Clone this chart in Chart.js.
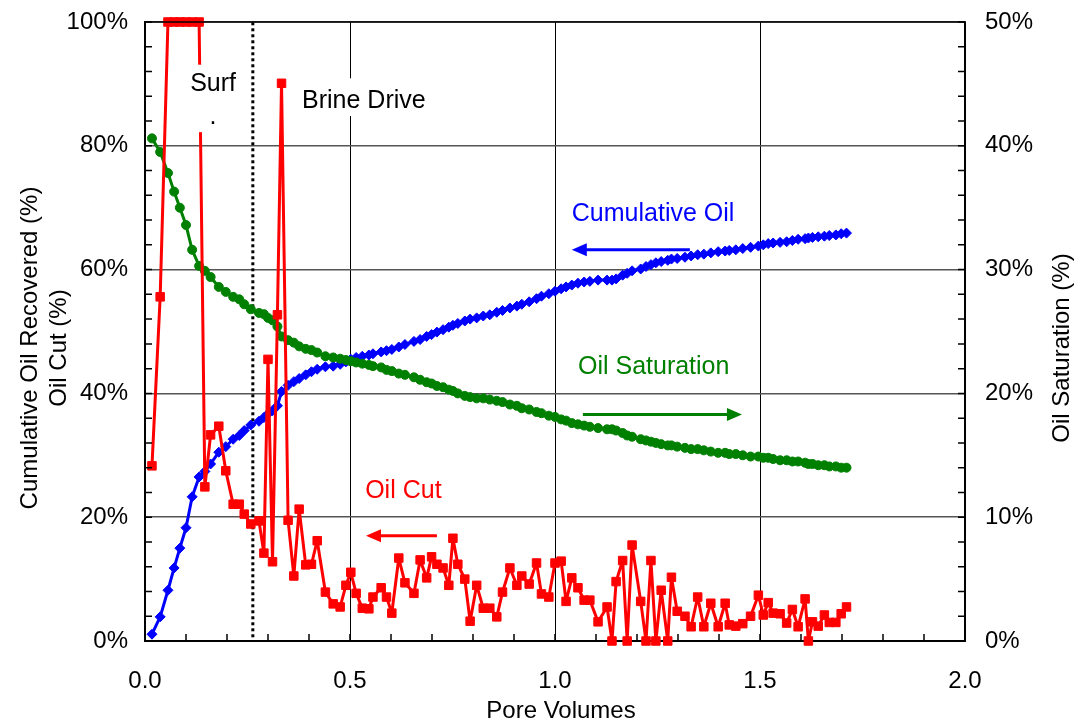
<!DOCTYPE html>
<html>
<head>
<meta charset="utf-8">
<script src="https://cdn.jsdelivr.net/npm/chart.js@4.4.0/dist/chart.umd.min.js"></script>
<style>
  html, body { margin: 0; padding: 0; background: #fff; }
</style>
</head>
<body>
<canvas id="myChart" width="1080" height="728"></canvas>
<script>
// pore volumes injected (x) shared by all three series
var poreVolumes = [
  0.017, 0.037, 0.056, 0.071, 0.085, 0.100, 0.115, 0.132, 0.146, 0.160,
  0.180, 0.197, 0.215, 0.230, 0.242, 0.258, 0.278, 0.290, 0.300, 0.311,
  0.323, 0.333, 0.349, 0.363, 0.376, 0.392, 0.406, 0.420, 0.440, 0.459,
  0.476, 0.490, 0.502, 0.515, 0.530, 0.546, 0.556, 0.576, 0.589, 0.602,
  0.619, 0.634, 0.656, 0.671, 0.687, 0.699, 0.712, 0.727, 0.741, 0.751,
  0.763, 0.780, 0.793, 0.809, 0.825, 0.841, 0.858, 0.872, 0.890, 0.907,
  0.919, 0.937, 0.955, 0.967, 0.985, 1.000, 1.015, 1.027, 1.041, 1.056,
  1.071, 1.085, 1.105, 1.127, 1.139, 1.149, 1.165, 1.176, 1.188, 1.209,
  1.222, 1.234, 1.246, 1.259, 1.275, 1.284, 1.298, 1.317, 1.332, 1.348,
  1.363, 1.380, 1.398, 1.415, 1.425, 1.441, 1.458, 1.477, 1.496, 1.508,
  1.520, 1.532, 1.549, 1.565, 1.579, 1.593, 1.610, 1.618, 1.628, 1.642,
  1.657, 1.669, 1.685, 1.698, 1.711
];

// oil cut (%), left axis
var oilCut = [
  28.3, 55.6, 100, 100, 100, 100, 100, 100, 24.9, 33.3,
  34.7, 27.5, 22.1, 22.1, 20.5, 18.9, 19.4, 14.2, 45.5, 12.8,
  52.7, 90.1, 19.5, 10.5, 21.3, 12.3, 12.4, 16.2, 7.9, 6.0,
  5.5, 9.0, 11.1, 7.7, 5.3, 5.2, 7.1, 8.6, 7.1, 4.5,
  13.4, 9.4, 7.7, 13.1, 10.2, 13.6, 12.4, 11.8, 9.0, 16.6,
  12.4, 10.0, 3.2, 9.0, 5.3, 5.3, 3.9, 7.9, 11.8, 9.0,
  10.5, 9.2, 12.6, 7.6, 7.1, 12.6, 12.9, 6.4, 10.2, 8.6,
  6.6, 6.6, 3.1, 5.5, 0, 9.6, 13.0, 0, 15.5, 6.4,
  0, 13.0, 0, 8.2, 0, 10.3, 4.8, 4.0, 2.3, 7.1,
  2.3, 6.1, 2.3, 6.1, 2.6, 2.4, 2.8, 4.0, 7.4, 4.2,
  6.2, 4.5, 4.4, 2.9, 5.1, 2.3, 6.8, 0, 3.1, 2.4,
  4.2, 3.0, 3.0, 4.4, 5.5
];

// cumulative oil recovered (%), left axis
var cumulativeOil = [
  1.1, 3.9, 8.2, 11.8, 15.0, 18.3, 23.3, 26.5, 27.4, 28.6,
  30.5, 31.4, 32.6, 33.2, 34.0, 34.9, 35.5, 36.1, 36.7, 37.2,
  38.0, 40.3, 41.3, 41.9, 42.4, 43.0, 43.5, 43.9, 44.3, 44.4,
  44.7, 45.1, 45.5, 45.8, 46.0, 46.2, 46.4, 46.7, 46.9, 47.1,
  47.5, 47.9, 48.4, 48.7, 49.2, 49.5, 49.9, 50.3, 50.7, 51.0,
  51.3, 51.7, 52.0, 52.2, 52.5, 52.7, 53.1, 53.4, 53.8, 54.1,
  54.4, 54.8, 55.3, 55.7, 56.1, 56.5, 56.9, 57.2, 57.5, 57.8,
  58.0, 58.1, 58.3, 58.3, 58.3, 58.5, 59.1, 59.4, 59.8, 60.1,
  60.5, 60.8, 61.1, 61.3, 61.5, 61.7, 61.8, 62.0, 62.2, 62.4,
  62.5, 62.7, 62.9, 63.0, 63.1, 63.2, 63.4, 63.6, 63.8, 64.0,
  64.2, 64.3, 64.4, 64.5, 64.7, 64.9, 65.0, 65.1, 65.2, 65.3,
  65.4, 65.5, 65.6, 65.8, 65.9
];

// oil saturation (%), right axis
var oilSaturation = [
  40.6, 39.5, 37.8, 36.3, 35.0, 33.6, 31.6, 30.3, 29.9, 29.4,
  28.6, 28.2, 27.8, 27.6, 27.2, 26.8, 26.5, 26.4, 26.1, 25.9,
  25.4, 24.6, 24.3, 24.1, 23.8, 23.6, 23.5, 23.3, 23.0, 22.9,
  22.8, 22.7, 22.6, 22.5, 22.4, 22.3, 22.2, 22.1, 21.9, 21.8,
  21.6, 21.5, 21.3, 21.1, 20.9, 20.8, 20.6, 20.5, 20.3, 20.2,
  20.0, 19.8, 19.7, 19.6, 19.6, 19.5, 19.4, 19.3, 19.1, 19.0,
  18.8, 18.7, 18.5, 18.4, 18.2, 18.1, 17.9, 17.8, 17.6, 17.5,
  17.4, 17.3, 17.2, 17.1, 17.1, 17.0, 16.8, 16.6, 16.5, 16.3,
  16.2, 16.1, 16.0, 15.9, 15.8, 15.8, 15.7, 15.6, 15.5, 15.5,
  15.4, 15.3, 15.2, 15.2, 15.1, 15.1, 15.0, 14.9, 14.9, 14.8,
  14.8, 14.7, 14.6, 14.6, 14.5, 14.5, 14.4, 14.3, 14.3, 14.2,
  14.2, 14.1, 14.1, 14.0, 14.0
];

// end of surfactant slug / start of brine drive
var surfactantEnd = [0.263];

var FONT = '"Liberation Sans", Arial, sans-serif';
var BLUE = '#0000ff', GREEN = '#008000', RED = '#ff0000';

function toPoints(ys) {
  return poreVolumes.map(function (x, i) { return { x: x, y: ys[i] }; });
}

// text notes and arrows (value coordinates on the chart's scales)
var notes = [
  { text: 'Surf', x: 0.166, y: 90.0, color: '#000', align: 'center', box: [0.105, 0.232, 82.2, 93.1] },
  { text: '.', x: 0.166, y: 84.6, color: '#000', align: 'center' },
  { text: 'Brine Drive', x: 0.383, y: 87.3, color: '#000', align: 'left', box: [0.358, 0.712, 84.8, 90.9] },
  { text: 'Cumulative Oil', x: 1.041, y: 69.0, color: BLUE, align: 'left' },
  { text: 'Oil Saturation', x: 1.056, y: 44.3, color: GREEN, align: 'left' },
  { text: 'Oil Cut', x: 0.537, y: 24.2, color: RED, align: 'left' }
];
var arrows = [
  { from: 1.329, to: 1.041, y: 63.2, axis: 'y', color: BLUE },
  { from: 1.068, to: 1.456, y: 18.3, axis: 'y2', color: GREEN },
  { from: 0.712, to: 0.539, y: 17.0, axis: 'y', color: RED }
];

var decorPlugin = {
  id: 'decor',
  afterDatasetsDraw: function (chart) {
    var ctx = chart.ctx, a = chart.chartArea;
    var sx = chart.scales.x, sy = chart.scales.y, sy2 = chart.scales.y2;
    var v, p;
    ctx.save();

    // minor tick marks pointing into the plot
    ctx.strokeStyle = '#000';
    ctx.lineWidth = 1.5;
    ctx.beginPath();
    for (v = 0; v <= 20; v++) {
      p = sx.getPixelForValue(v / 10);
      ctx.moveTo(p, a.bottom); ctx.lineTo(p, a.bottom - 7);
    }
    for (v = 0; v <= 100; v += 4) {
      p = sy.getPixelForValue(v);
      ctx.moveTo(a.left, p); ctx.lineTo(a.left + 7, p);
    }
    for (v = 0; v <= 50; v += 2) {
      p = sy2.getPixelForValue(v);
      ctx.moveTo(a.right, p); ctx.lineTo(a.right - 7, p);
    }
    ctx.stroke();

    // frame top and right
    ctx.lineWidth = 1.5;
    ctx.beginPath();
    ctx.moveTo(a.left, a.top); ctx.lineTo(a.right, a.top); ctx.lineTo(a.right, a.bottom);
    ctx.stroke();

    // arrows
    arrows.forEach(function (ar) {
      var x1 = sx.getPixelForValue(ar.from), x2 = sx.getPixelForValue(ar.to);
      var py = chart.scales[ar.axis].getPixelForValue(ar.y);
      var dir = x2 > x1 ? 1 : -1;
      ctx.strokeStyle = ar.color; ctx.fillStyle = ar.color; ctx.lineWidth = 3;
      ctx.beginPath(); ctx.moveTo(x1, py); ctx.lineTo(x2 - dir * 10, py); ctx.stroke();
      ctx.beginPath();
      ctx.moveTo(x2, py); ctx.lineTo(x2 - dir * 15, py - 6.5); ctx.lineTo(x2 - dir * 15, py + 6.5);
      ctx.closePath(); ctx.fill();
    });

    // text notes, some on a white box
    ctx.font = '25px ' + FONT;
    ctx.textBaseline = 'middle';
    notes.forEach(function (n) {
      if (n.box) {
        var l = sx.getPixelForValue(n.box[0]), r = sx.getPixelForValue(n.box[1]);
        var b = sy.getPixelForValue(n.box[2]), t = sy.getPixelForValue(n.box[3]);
        ctx.fillStyle = '#fff';
        ctx.fillRect(l, t, r - l, b - t);
      }
    });
    notes.forEach(function (n) {
      ctx.fillStyle = n.color;
      ctx.textAlign = n.align;
      ctx.fillText(n.text, sx.getPixelForValue(n.x), sy.getPixelForValue(n.y));
    });
    ctx.restore();
  },
  afterDraw: function (chart) {
    var ctx = chart.ctx;
    ctx.save();
    ctx.fillStyle = '#000';
    ctx.font = '24px ' + FONT;
    ctx.textAlign = 'center';
    ctx.textBaseline = 'middle';
    ctx.fillText('Pore Volumes', 561, 711);
    ctx.translate(30, 348);
    ctx.rotate(-Math.PI / 2);
    ctx.fillText('Cumulative Oil Recovered (%)', 0, 0);
    ctx.fillText('Oil Cut (%)', 0, 29);
    ctx.restore();
    ctx.save();
    ctx.fillStyle = '#000';
    ctx.font = '24px ' + FONT;
    ctx.textAlign = 'center';
    ctx.textBaseline = 'middle';
    ctx.translate(1062, 348);
    ctx.rotate(-Math.PI / 2);
    ctx.fillText('Oil Saturation (%)', 0, 0);
    ctx.restore();
  }
};

Chart.defaults.font.family = FONT;
Chart.defaults.color = '#000';

// fixed axis sizes so the plot area sits where the reference has it
function fixWidth(w) {
  return function (s) { s.width = w; s.paddingTop = 0; s.paddingBottom = 0; };
}

new Chart(document.getElementById('myChart'), {
  type: 'line',
  data: {
    datasets: [
      {
        label: 'Oil Cut',
        data: toPoints(oilCut),
        yAxisID: 'y',
        borderColor: RED, backgroundColor: RED,
        borderWidth: 3, borderJoinStyle: 'round', pointStyle: 'rect', pointRadius: 6, pointBorderWidth: 1,
        pointBorderColor: RED, tension: 0, clip: false, order: 1
      },
      {
        label: 'Oil Saturation',
        data: toPoints(oilSaturation),
        yAxisID: 'y2',
        borderColor: GREEN, backgroundColor: GREEN,
        borderWidth: 3, borderJoinStyle: 'round', pointStyle: 'circle', pointRadius: 4.5, pointBorderWidth: 1,
        pointBorderColor: GREEN, tension: 0, order: 2
      },
      {
        label: 'Cumulative Oil',
        data: toPoints(cumulativeOil),
        yAxisID: 'y',
        borderColor: BLUE, backgroundColor: BLUE,
        borderWidth: 3, borderJoinStyle: 'round', pointStyle: 'rectRot', pointRadius: 5, pointBorderWidth: 1,
        pointBorderColor: BLUE, tension: 0, order: 3
      },
      {
        label: 'Surfactant end',
        data: [{ x: surfactantEnd[0], y: 0.6 }, { x: surfactantEnd[0], y: 100 }],
        yAxisID: 'y',
        borderColor: '#000', borderWidth: 3, borderDash: [3, 3],
        pointRadius: 0, order: 4
      }
    ]
  },
  options: {
    responsive: false,
    devicePixelRatio: 1,
    animation: false,
    layout: { padding: { top: 22, left: 0, right: 0, bottom: 0 } },
    plugins: { legend: { display: false }, tooltip: { enabled: false } },
    scales: {
      x: {
        type: 'linear', min: 0, max: 2,
        ticks: {
          stepSize: 0.5, maxRotation: 0, padding: 26,
          font: { size: 24 },
          callback: function (v) { return v.toFixed(1); }
        },
        grid: { color: '#000', lineWidth: 1, drawTicks: false },
        border: { color: '#000', width: 2 },
        afterFit: function (s) { s.height = 87; }
      },
      y: {
        position: 'left', min: 0, max: 100,
        ticks: {
          stepSize: 20, padding: 17,
          font: { size: 24 },
          callback: function (v) { return v + '%'; }
        },
        grid: { color: '#555', lineWidth: 1.5, drawTicks: false },
        border: { color: '#000', width: 2 },
        afterFit: fixWidth(145)
      },
      y2: {
        position: 'right', min: 0, max: 50,
        ticks: {
          stepSize: 10, padding: 20,
          font: { size: 24 },
          callback: function (v) { return v + '%'; }
        },
        grid: { drawOnChartArea: false, drawTicks: false },
        border: { color: '#000', width: 1.5 },
        afterFit: fixWidth(115)
      }
    }
  },
  plugins: [decorPlugin]
});
</script>
</body>
</html>
